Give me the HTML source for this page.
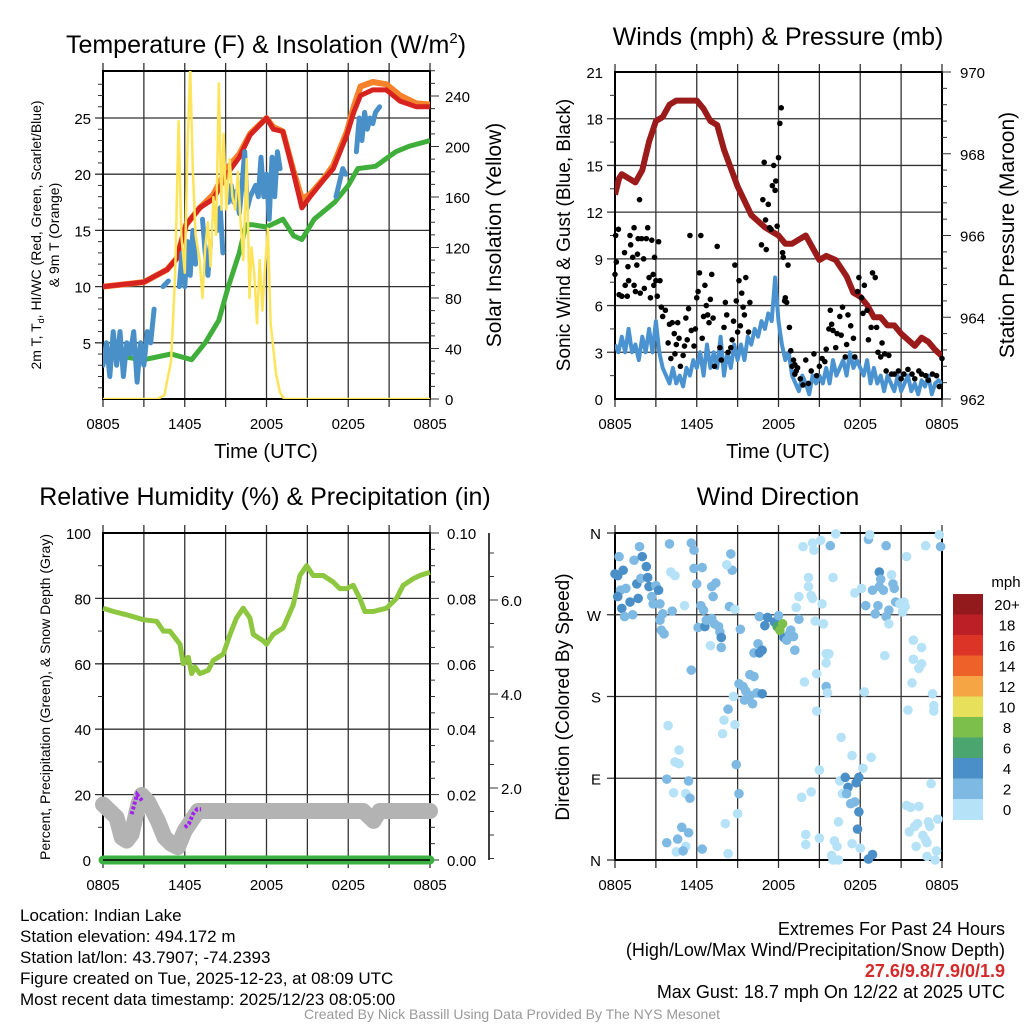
<!DOCTYPE html>
<html><head><meta charset="utf-8"><style>
html,body{margin:0;padding:0;background:#fff;}
svg{display:block;font-family:"Liberation Sans",sans-serif;}
</style></head><body>
<svg id="fig" width="1024" height="1024" viewBox="0 0 1024 1024" xmlns="http://www.w3.org/2000/svg">
<g id="layer"></g>
</svg>
<script>
// ---------- DATA (hours since 0805 UTC) ----------
const xTickLabels = ["0805","1405","2005","0205","0805"];
const tempHours = [0,3,4.7,5.4,6.1,7.1,8.1,9.1,10,10.8,12,12.5,13.2,14,14.6,15.2,16.2,16.9,17.9,18.4,18.9,19.8,20.8,21.8,23,24];
const tempVals  = [10,10.4,11.5,12.5,15.5,17,17.8,20,21.5,23.5,25,24,23.8,20,17,18,19.5,20.5,23.5,25.5,27,27.5,27.5,26.5,26,26];
const temp9mVals= [10,10.4,11.5,12.5,15.5,17,18.2,20.5,21.8,23.6,25,24.2,23.8,20.2,17.8,18.2,19.6,20.8,23.8,26,27.8,28.2,28,27,26.3,26.2];
const dewHours = [0,3,5,6.5,7.5,8.5,9.2,10,10.5,11,12,13.2,14,14.6,15.5,17,18,18.7,20,21.5,22.5,24];
const dewVals  = [4,3.5,4,3.5,5,7,10,13,15.5,15.5,15.3,16,14.5,14.2,16,17.5,19,20.5,20.7,22,22.5,23];
const hiwcHours = [0,.25,.5,.75,1,1.25,1.5,1.75,2,2.25,2.5,2.75,3,3.25,3.5,3.75,4,4.4,4.8,5,5.6,5.8,6,6.2,6.4,6.6,6.8,7,7.3,7.5,7.7,7.9,8.1,8.4,8.6,8.8,9,9.2,9.4,9.6,9.8,10,10.2,10.4,10.6,10.8,11,11.2,11.4,11.6,11.8,12,12.2,12.4,12.6,12.8,13,13.2,17.1,17.3,17.6,17.8,18,18.6,18.8,19,19.2,19.4,19.6,19.8,20,20.3];
const hiwcVals  = [3,5,2,6,3,6,2,5,4,6,1.5,5,3,6,5,8,null,10,10.5,null,10,13,10,14,11,15,12,null,16,13,11,14,null,15,17,13,null,17.5,19,17.5,18.5,16.5,19,22,17,18,18.5,19,18,21.5,18,20,16,21.5,18,22,20.5,null,18,19,20.5,20,null,22,25,23,25.5,24,25,24.5,25.5,26];
const solarHours = [0,4,4.5,5,5.3,5.55,5.75,6,6.2,6.4,6.6,6.8,7.1,7.3,7.5,7.7,7.9,8.1,8.3,8.5,8.7,8.85,9.05,9.3,9.5,9.7,9.9,10.1,10.3,10.55,10.75,10.9,11.1,11.3,11.5,11.7,11.9,12.1,12.3,12.5,12.7,13,13.3,24];
const solarVals  = [0,0,3,30,100,220,130,100,200,262,180,130,110,80,120,140,105,160,130,250,150,210,150,190,160,150,180,140,110,190,80,120,100,60,110,70,105,135,60,40,20,5,0,0];

const pressHours = [0,.3,.5,1,1.5,2,2.5,3,3.5,4,4.5,5,6,6.5,7,7.5,8,9,10,11,12,12.5,13,13.5,14,15,15.5,16.2,17,17.5,18,18.5,19,19.5,20,20.5,21,22,22.5,23,23.5,24];
const pressVals  = [967,967.4,967.5,967.4,967.3,967.6,968.3,968.8,968.9,969.2,969.3,969.3,969.3,969.1,968.8,968.7,968.1,967.2,966.5,966.2,966,965.8,965.8,965.9,966,965.4,965.5,965.4,965,964.6,964.5,964.3,964,964,963.8,963.8,963.6,963.3,963.5,963.4,963.2,963.05];
const windStep = 0.25;
const windVals = [3.5,3,4,3,4.5,3,3.5,2.5,4,3,4.5,3,5,
 3,2,1.5,1,2,1,1.5,0.8,2,1.5,2.5,
 2,3,1.5,3.5,2,3,2,4,1.5,3,2,3.5,
 2.5,3.5,2.5,4,3.5,4.5,4,5,4.5,5.5,5,7.8,
 5,3.5,2.5,3,1.5,1,0.5,1.5,1,0.3,1.5,1,
 1.5,1,2,1,2.5,1.5,2,2.5,1.5,3,2,2.5,
 2,1.5,2.5,1,2,1,1.5,0.5,1.5,1,0.5,1.5,
 0.5,1,1.5,0.5,1,0.3,1.2,0.8,1.5,0.3,1,1.2,1];
const gustObs = [[0,8],[0.05,10.5],[0.1,8.8],[0.25,10.9],[0.3,6.7],[0.5,6.6],[0.7,9.4],[0.75,7.3],[0.9,6.6],[0.95,8.5],[1,7.6],[1.1,10.5],[1.15,9.9],[1.3,9.1],[1.4,7.3],[1.4,11],[1.5,6.9],[1.6,8.6],[1.65,9.3],[1.7,10.3],[1.8,12.8],[1.85,6.8],[1.95,10.3],[2.1,9],[2.15,7.1],[2.3,10.3],[2.4,11],[2.5,7.8],[2.6,6.5],[2.7,10.2],[2.8,8],[2.85,7.3],[2.9,9.1],[3,7.6],[3.1,6.6],[3.2,10.1],[3.3,7.6],[3.4,5.9],[3.5,5.3],[3.7,5.7],[3.9,3.6],[4,4.8],[4.1,2.6],[4.2,4.9],[4.35,4.2],[4.4,2.9],[4.5,3.5],[4.6,4.9],[4.7,3.9],[4.8,2.1],[5,2.8],[5.1,3.4],[5.2,5.2],[5.3,3.8],[5.4,5.8],[5.5,10.5],[5.6,4.4],[5.8,3.4],[5.9,4.5],[6,6.5],[6.1,6.9],[6.2,8.1],[6.3,10.5],[6.4,3.9],[6.5,5.3],[6.6,7.3],[6.7,6],[6.8,5.4],[6.9,4.9],[7,6.4],[7.1,8],[7.2,5.2],[7.3,2.1],[7.5,9.8],[7.7,3.3],[7.8,2.5],[8,4.6],[8.1,6.2],[8.2,5.4],[8.3,3],[8.5,3.3],[8.6,3.8],[8.7,5],[8.8,8.6],[8.9,6.3],[9,4.3],[9.1,7.6],[9.2,4.7],[9.3,6.8],[9.4,5.9],[9.5,5.4],[9.6,7.8],[9.8,4.3],[9.9,6.2],[10.75,9.9],[10.85,12.8],[10.95,15.2],[11.05,11.5],[11.1,9.6],[11.25,12.5],[11.35,11],[11.45,10.9],[11.55,13.7],[11.65,15],[11.75,13.4],[11.8,14],[11.9,11.1],[12.0,15.5],[12.1,17.7],[12.2,18.7],[12.3,9.4],[12.35,9.1],[12.45,6.3],[12.5,6.5],[12.6,6.2],[12.7,8.6],[12.8,4.6],[12.9,3.1],[13.1,2.5],[13.2,2.2],[13.3,1.8],[13,2.1],[13.2,1.6],[13.4,2],[13.6,1.3],[13.8,0.9],[14,2.5],[14.2,1],[14.4,1.8],[14.6,2.9],[14.8,1.5],[15,2.1],[15.2,2.6],[15.4,2.4],[15.5,3.2],[15.7,4.5],[15.8,5.7],[15.9,4.8],[16,4.4],[16.2,3.3],[16.3,4.2],[16.5,5.3],[16.6,4.1],[16.7,5.9],[16.9,2.7],[17,3.5],[17.1,5.4],[17.3,4.7],[17.5,3.9],[17.6,2.7],[17.8,6.9],[17.9,7.8],[18.1,6.5],[18.2,5.5],[18.3,7.3],[18.5,5.7],[18.6,3.8],[18.8,4.6],[18.9,8.1],[19.1,7.8],[19.2,4.6],[19.3,3],[19.5,2.7],[19.6,3.6],[19.8,2.9],[19.9,1.8],[20.1,2.8],[20.3,1.6],[20.5,1.6],[20.8,1.8],[21,1.3],[21.2,1.6],[21.5,1.9],[21.8,1.6],[22,1.3],[22.3,1.8],[22.5,1.6],[22.8,1.5],[23,1.2],[23.3,1.6],[23.6,1.5],[23.8,0.8],[24,2.6]];

const rhHours = [0,0.76,1.74,2.96,3.94,4.43,4.91,5.65,5.89,6.26,6.5,6.75,7.11,7.73,8.09,8.83,9.32,9.8,10.29,10.78,11.03,11.76,12,12.49,13.23,13.96,14.45,14.94,15.43,16.16,16.89,17.38,17.87,18.36,18.85,19.22,19.83,20.81,21.54,22.03,22.76,23.25,24];
const rhVals  = [77,76,75,73.5,73,70,70,66,60,62,57,59,57,58,61,63,69,74,77,74,69,67,66,69,71,78,87,90,87,87,85,83,83,84,80,76,76,77,80,84,86,87,88];
const snowHours = [0,0.5,1,1.37,1.74,2.1,2.59,2.84,3.3,4.03,4.52,5.01,5.5,5.99,6.48,6.97,7.7,19.1,19.85,20.3,24];
const snowVals  = [1.65,1.51,1.37,0.95,0.88,1.02,1.65,1.85,1.71,1.30,0.95,0.81,0.74,1.09,1.30,1.51,1.51,1.51,1.30,1.51,1.51];
const precipHours = [0,24];
const precipVals  = [0,0];
const tracerHours = [2.1,2.3,2.5,2.7,2.9,null,6,6.3,6.6,6.9,7.2];
const tracerVals  = [14,17,20,19,18,null,10,11,14,15.5,15.5];

const colorLevels = ["0","2","4","6","8","10","12","14","16","18","20+"];
const colorFills  = ["#b5e2f7","#7db9e3","#4a8fc7","#4aa56f","#7cc04b","#e6e05a","#f5a544","#ee6128","#dc3527","#bd1f26","#921a1d"];
const dirObs = [[0,315,4],[0.2,313,4],[0.6,319,4],[0.3,334,2],[0.4,297,2],[0.8,299,2],[0.2,290,4],[1.1,284,4],[0.5,277,4],[0.7,268,2],[1.3,270,2],[1.4,330,2],[1.6,304,4],[1.7,288,4],[1.8,345,2],[2.0,334,4],[1.9,310,2],[2.3,323,4],[2.4,311,4],[2.5,301,4],[2.7,290,2],[2.8,282,2],[3.0,302,2],[3.2,297,4],[3.3,282,2],[3.5,271,2],[3.3,264,2],[3.4,253,2],[3.6,249,2],[4.0,348,2],[4.1,317,0],[4.4,313,0],[4.2,274,2],[5.1,280,0],[3.9,148,0],[4.7,121,0],[4.4,108,0],[4.7,106,0],[3.8,89,2],[4.3,74,0],[5.4,87,2],[5.2,73,0],[5.5,68,2],[4.9,36,2],[5.4,30,2],[4.6,23,2],[3.8,19,2],[5.2,15,0],[4.5,9,0],[5.0,10,2],[6.4,12,2],[5.6,349,2],[5.8,341,2],[5.8,321,2],[6.0,304,2],[6.4,322,2],[6.3,280,2],[6.5,275,2],[6.1,256,2],[6.6,257,4],[6.7,264,2],[7.1,266,2],[7.3,260,2],[7.6,257,2],[7.7,251,2],[7.8,245,4],[7.0,236,0],[7.8,234,2],[7.1,301,2],[7.2,290,2],[7.4,305,2],[5.6,209,2],[8.5,337,2],[8.6,319,2],[8.2,325,0],[8.4,279,2],[8.8,276,0],[9.2,254,2],[8.7,180,0],[8.3,166,2],[8.0,154,0],[8.8,149,0],[7.9,139,0],[8.9,105,2],[9.1,73,2],[9.0,51,0],[8.1,40,0],[8.3,7,0],[9.1,194,2],[9.4,191,2],[9.6,186,2],[9.5,176,2],[9.9,181,2],[10.1,172,2],[9.9,204,2],[10.2,202,2],[10.4,184,2],[10.8,183,4],[10.2,228,2],[10.5,238,2],[10.6,228,4],[10.8,231,4],[10.6,268,2],[11.0,258,4],[11.2,267,4],[11.7,262,4],[12.0,269,2],[12.4,245,4],[12.6,242,2],[12.8,249,2],[12.9,253,2],[13.1,246,2],[13.2,231,2],[11.9,257,6],[12.1,253,8],[12.3,260,8],[13.3,278,0],[13.5,290,0],[13.5,265,2],[13.8,345,0],[14.2,311,0],[14.2,301,0],[14.4,291,0],[14.5,288,0],[14.5,349,0],[14.6,341,0],[15.1,352,0],[15.2,282,0],[14.7,263,0],[15.3,260,0],[15.5,227,0],[15.7,227,0],[15.5,217,0],[14.8,205,0],[13.9,196,0],[15.5,191,2],[15.6,184,0],[14.8,164,0],[15.8,346,2],[16.0,311,0],[16.2,359,0],[16.6,135,0],[17.4,115,0],[18.8,113,0],[15.0,99,0],[13.7,69,0],[14.4,75,0],[14.0,28,0],[14.0,17,0],[15.0,24,0],[16.5,87,0],[16.9,91,4],[17.1,80,4],[16.7,73,0],[17.0,73,2],[17.3,62,2],[17.6,64,2],[17.7,85,4],[17.9,91,4],[17.9,53,4],[17.8,34,4],[16.4,42,0],[16.1,21,0],[16.3,15,0],[17.4,18,0],[18.0,13,0],[18.6,1,4],[18.9,6,4],[15.9,5,0],[16.0,0,0],[16.4,0,0],[18.2,101,0],[18.3,185,0],[18.1,299,0],[17.6,294,0],[18.6,353,2],[18.7,358,0],[18.4,280,2],[19.1,271,2],[19.3,280,2],[18.9,297,2],[19.4,301,2],[19.4,317,4],[19.5,309,2],[19.7,297,2],[19.9,346,2],[19.8,225,0],[19.9,268,2],[20.1,275,2],[20.1,260,0],[20.4,304,2],[20.5,299,2],[20.3,314,0],[20.6,284,2],[20.9,282,0],[21.1,273,0],[21.2,284,0],[21.3,279,0],[21.4,334,0],[21.9,242,0],[22.5,234,0],[21.9,221,0],[22.5,216,0],[22.3,211,0],[21.8,195,0],[23.3,183,0],[23.4,170,0],[23.4,164,0],[21.5,165,0],[22.8,346,0],[23.8,358,0],[23.9,345,2],[23.2,84,0],[21.4,60,0],[21.7,58,0],[22.3,59,0],[21.6,31,0],[22.0,37,0],[22.2,40,0],[23.0,42,0],[23.1,37,0],[23.7,45,0],[22.6,27,0],[22.8,22,0],[22.9,19,0],[22.1,15,0],[23.6,10,0],[22.9,4,0],[23.5,0,0]];

// ---------- DRAWING ----------
const NS="http://www.w3.org/2000/svg";
const root=document.getElementById('layer');
function el(tag,attrs,parent,text){const e=document.createElementNS(NS,tag);for(const k in attrs)e.setAttribute(k,attrs[k]);if(text!==undefined)e.textContent=text;(parent||root).appendChild(e);return e;}
function lin(d0,d1,r0,r1){return v=>r0+(v-d0)*(r1-r0)/(d1-d0);}
function pathFrom(hs,vs,X,Y){let d="",pen=false;for(let i=0;i<hs.length;i++){if(hs[i]===null||vs[i]===null){pen=false;continue;}d+=(pen?"L":"M")+X(hs[i]).toFixed(1)+","+Y(vs[i]).toFixed(1);pen=true;}return d;}

function frame(g,L,R,T,B,X,ys,xlabels){
  for(let h=0;h<=24;h+=3){const x=X(h);
    const ln=el('line',{x1:x,x2:x,y1:T-8,y2:B+8,stroke:'#333','stroke-width':1.3},g);
    
    }
  for(const y of ys){el('line',{x1:L-8,x2:R,y1:y,y2:y,stroke:'#333','stroke-width':1.3},g);}
  el('rect',{x:L,y:T,width:R-L,height:B-T,fill:'none',stroke:'#000','stroke-width':2},g);
  if(xlabels){xTickLabels.forEach((t,i)=>{const tx=el('text',{x:X(i*6),y:B+30,'font-size':15,'text-anchor':'middle'},g,t);
    
    });}
}

// ===== Panel 1 =====
(function(){
  const g=el('g',{});
  const L=103,R=430,T=71,B=399;
  const X=lin(0,24,L,R), Y=lin(0,25,399,118), Ys=lin(0,240,399,96);
  const grid=[5,10,15,20,25].map(Y);
  frame(g,L,R,T,B,X,grid,true);
  for(let v=1;v<=28;v++){if(v%5)el('line',{x1:L-5,x2:L,y1:Y(v),y2:Y(v),stroke:'#333'},g);}
  [5,10,15,20,25].forEach(v=>el('text',{x:L-12,y:Y(v)+6,'font-size':15,'text-anchor':'end'},g,String(v)));
  for(let v=0;v<=260;v+=10){const len=v%40?5:9;el('line',{x1:R,x2:R+len,y1:Ys(v),y2:Ys(v),stroke:'#333'},g);}
  [0,40,80,120,160,200,240].forEach(v=>el('text',{x:R+15,y:Ys(v)+6,'font-size':15},g,String(v)));
  const cp=el('clipPath',{id:'c1'},g);el('rect',{x:L,y:T,width:R-L,height:B-T},cp);
  const pg=el('g',{'clip-path':'url(#c1)'},g);
  let p;
  p=el('path',{d:pathFrom(dewHours,dewVals,X,Y),fill:'none',stroke:'#3fae3a','stroke-width':5,'stroke-linejoin':'round'},pg);
  
  p=el('path',{d:pathFrom(tempHours,temp9mVals,X,Y),fill:'none',stroke:'#f5822a','stroke-width':6,'stroke-linejoin':'round'},pg);
  
  p=el('path',{d:pathFrom(tempHours,tempVals,X,Y),fill:'none',stroke:'#d7231f','stroke-width':5,'stroke-linejoin':'round'},pg);
  
  p=el('path',{d:pathFrom(hiwcHours,hiwcVals,X,Y),fill:'none',stroke:'#4a90c8','stroke-width':5,'stroke-linejoin':'round','stroke-linecap':'round'},pg);
  
  p=el('path',{d:pathFrom(solarHours,solarVals,X,Ys),fill:'none',stroke:'#fde45a','stroke-width':2.5,'stroke-linejoin':'round'},pg);
  
  const t=el('text',{x:266,y:53,'font-size':25,'text-anchor':'middle'},g);
  t.innerHTML='Temperature (F) &amp; Insolation (W/m<tspan dy="-10" font-size="15">2</tspan><tspan dy="10">)</tspan>';
  
  let a=el('text',{x:266,y:458,'font-size':20,'text-anchor':'middle'},g,'Time (UTC)');
  
  a=el('text',{transform:'translate(41,235) rotate(-90)','font-size':14,'text-anchor':'middle'},g);
  a.innerHTML='2m T, T<tspan dy="3" font-size="9">d</tspan><tspan dy="-3">, HI/WC (Red, Green, Scarlet/Blue)</tspan>';
  
  a=el('text',{transform:'translate(59,235) rotate(-90)','font-size':14,'text-anchor':'middle'},g,'& 9m T (Orange)');
  
  a=el('text',{transform:'translate(501,235) rotate(-90)','font-size':21,'text-anchor':'middle'},g,'Solar Insolation (Yellow)');
  
})();

// ===== Panel 2 =====
(function(){
  const g=el('g',{});
  const L=615,R=942,T=72,B=399;
  const X=lin(0,24,L,R), Y=lin(0,21,399,72), Yp=lin(962,970,399,72);
  const grid=[3,6,9,12,15,18].map(Y);
  frame(g,L,R,T,B,X,grid,true);
  for(let v=1.5;v<21;v+=3)el('line',{x1:L-5,x2:L,y1:Y(v),y2:Y(v),stroke:'#333'},g);
  [0,3,6,9,12,15,18,21].forEach(v=>el('text',{x:L-12,y:Y(v)+6,'font-size':15,'text-anchor':'end'},g,String(v)));
  for(let v=962;v<=970.001;v+=0.4){const len=Math.abs(v-Math.round(v/2)*2)<0.01?9:5;el('line',{x1:R,x2:R+len,y1:Yp(v),y2:Yp(v),stroke:'#333'},g);}
  [962,964,966,968,970].forEach(v=>el('text',{x:R+18,y:Yp(v)+6,'font-size':15},g,String(v)));
  const cp=el('clipPath',{id:'c2'},g);el('rect',{x:L,y:T-5,width:R-L,height:B-T+5},cp);
  const pg=el('g',{'clip-path':'url(#c2)'},g);
  const wh=windVals.map((v,i)=>i*windStep);
  let p=el('path',{d:pathFrom(wh,windVals,X,Y),fill:'none',stroke:'#4b93d0','stroke-width':4,'stroke-linejoin':'round'},pg);
  
  p=el('path',{d:pathFrom(pressHours,pressVals,X,Yp),fill:'none',stroke:'#9b1b1b','stroke-width':6,'stroke-linejoin':'round'},pg);
  
  gustObs.forEach(o=>{const c=el('circle',{cx:X(o[0]),cy:Y(o[1]),r:2.8,fill:'#000'},g);
    });
  let a=el('text',{x:778,y:45,'font-size':25,'text-anchor':'middle'},g,'Winds (mph) & Pressure (mb)');
  
  a=el('text',{x:778,y:458,'font-size':20,'text-anchor':'middle'},g,'Time (UTC)');
  
  a=el('text',{transform:'translate(570,235) rotate(-90)','font-size':19,'text-anchor':'middle'},g,'Sonic Wind & Gust (Blue, Black)');
  
  a=el('text',{transform:'translate(1014,235) rotate(-90)','font-size':21,'text-anchor':'middle'},g,'Station Pressure (Maroon)');
  
})();

// ===== Panel 3 =====
(function(){
  const g=el('g',{});
  const L=103,R=430,T=533,B=860;
  const X=lin(0,24,L,R), Y=lin(0,100,860,533), Ypr=lin(0,0.1,860,533), Ysn=lin(0,2,882,788);
  const grid=[20,40,60,80].map(Y);
  frame(g,L,R,T,B,X,grid,true);
  for(let v=10;v<100;v+=20)el('line',{x1:L-5,x2:L,y1:Y(v),y2:Y(v),stroke:'#333'},g);
  [0,20,40,60,80,100].forEach(v=>el('text',{x:L-12,y:Y(v)+6,'font-size':15,'text-anchor':'end'},g,String(v)));
  for(let v=0;v<=0.1001;v+=0.005){const len=Math.abs(v*100-Math.round(v*50)*2)<0.01?9:5;el('line',{x1:R,x2:R+len,y1:Ypr(v),y2:Ypr(v),stroke:'#333'},g);}
  [0,0.02,0.04,0.06,0.08,0.1].forEach(v=>el('text',{x:R+17,y:Ypr(v)+6,'font-size':15},g,v.toFixed(2)));
  const ax=489;
  el('line',{x1:ax,x2:ax,y1:533,y2:860,stroke:'#000','stroke-width':1.5},g);
  for(let v=0.5;v<=7;v+=0.5){const y=Ysn(v);if(y<533||y>860)continue;el('line',{x1:ax,x2:ax+(v%2===0?9:5),y1:y,y2:y,stroke:'#333'},g);}
  [2,4,6].forEach(v=>el('text',{x:ax+12,y:Ysn(v)+6,'font-size':15},g,v.toFixed(1)));
  const cp=el('clipPath',{id:'c3'},g);el('rect',{x:L-10,y:T,width:R-L+20,height:B-T+10},cp);
  const pg=el('g',{'clip-path':'url(#c3)'},g);
  let p=el('path',{d:pathFrom(snowHours,snowVals,X,Ysn),fill:'none',stroke:'#b3b3b3','stroke-width':16,'stroke-linejoin':'round','stroke-linecap':'round'},pg);
  
  p=el('path',{d:pathFrom(tracerHours,tracerVals,X,Y),fill:'none',stroke:'#a020f0','stroke-width':4,'stroke-dasharray':'3 2'},pg);
  
  p=el('path',{d:pathFrom(precipHours,precipVals,X,Ypr),fill:'none',stroke:'#3cb043','stroke-width':9,'stroke-linecap':'round'},pg);
  
  el('line',{x1:L,x2:R,y1:B,y2:B,stroke:'#000','stroke-width':1.5},pg);
  p=el('path',{d:pathFrom(rhHours,rhVals,X,Y),fill:'none',stroke:'#8dc63f','stroke-width':5,'stroke-linejoin':'round'},pg);
  
  let a=el('text',{x:265,y:505,'font-size':25,'text-anchor':'middle'},g,'Relative Humidity (%) & Precipitation (in)');
  
  a=el('text',{transform:'translate(50,697) rotate(-90)','font-size':14,'text-anchor':'middle'},g,'Percent, Precipitation (Green), & Snow Depth (Gray)');
  
})();

// ===== Panel 4 =====
(function(){
  const g=el('g',{});
  const L=615,R=942,T=533,B=860;
  const X=lin(0,24,L,R), Y=lin(0,360,860,533);
  const grid=[90,180,270].map(Y);
  frame(g,L,R,T,B,X,grid,true);
  [T,B].forEach(y=>el('line',{x1:L-8,x2:L,y1:y,y2:y,stroke:'#333','stroke-width':1.3},g));
  ['N','E','S','W','N'].forEach((t,i)=>el('text',{x:L-14,y:Y(i*90)+6,'font-size':15,'text-anchor':'end'},g,t));
  const cp=el('clipPath',{id:'c4'},g);el('rect',{x:L-6,y:T-6,width:R-L+12,height:B-T+12},cp);
  const pg=el('g',{'clip-path':'url(#c4)'},g);
  dirObs.forEach(o=>{const idx=Math.min(10,Math.floor(o[2]/2));
    const c=el('circle',{cx:X(o[0]),cy:Y(o[1]),r:4.8,fill:colorFills[idx]},pg);
    });
  const cb=el('g',{},g);
  const h=20.5, top=594;
  for(let i=0;i<colorLevels.length;i++){const k=colorLevels.length-1-i;
    el('rect',{x:953,y:top+i*h,width:30,height:h+0.5,fill:colorFills[k]},cb);
    el('text',{x:1007,y:top+i*h+16,'font-size':15,'text-anchor':'middle'},cb,colorLevels[k]);}
  el('text',{x:1006,y:587,'font-size':15,'text-anchor':'middle'},cb,'mph');
  let a=el('text',{x:778,y:505,'font-size':25,'text-anchor':'middle'},g,'Wind Direction');
  
  a=el('text',{transform:'translate(569,697) rotate(-90)','font-size':19,'text-anchor':'middle'},g,'Direction (Colored By Speed)');
  
})();

// ===== Footer text =====
(function(){
  const g=el('g',{});
  const left=["Location: Indian Lake","Station elevation: 494.172 m","Station lat/lon: 43.7907; -74.2393","Figure created on Tue, 2025-12-23, at 08:09 UTC","Most recent data timestamp: 2025/12/23 08:05:00"];
  left.forEach((t,i)=>el('text',{x:20,y:921+i*21,'font-size':17},g,t));
  const g2=el('g',{});
  el('text',{x:1005,y:935,'font-size':18,'text-anchor':'end'},g2,'Extremes For Past 24 Hours');
  el('text',{x:1005,y:956,'font-size':18,'text-anchor':'end'},g2,'(High/Low/Max Wind/Precipitation/Snow Depth)');
  el('text',{x:1005,y:977,'font-size':18,'text-anchor':'end','font-weight':'bold',fill:'#d42a2a'},g2,'27.6/9.8/7.9/0/1.9');
  el('text',{x:1005,y:998,'font-size':18,'text-anchor':'end'},g2,'Max Gust: 18.7 mph On 12/22 at 2025 UTC');
  const c=el('text',{x:512,y:1019,'font-size':14,'text-anchor':'middle',fill:'#999'},root,'Created By Nick Bassill Using Data Provided By The NYS Mesonet');
  
})();
</script>
</body></html>
